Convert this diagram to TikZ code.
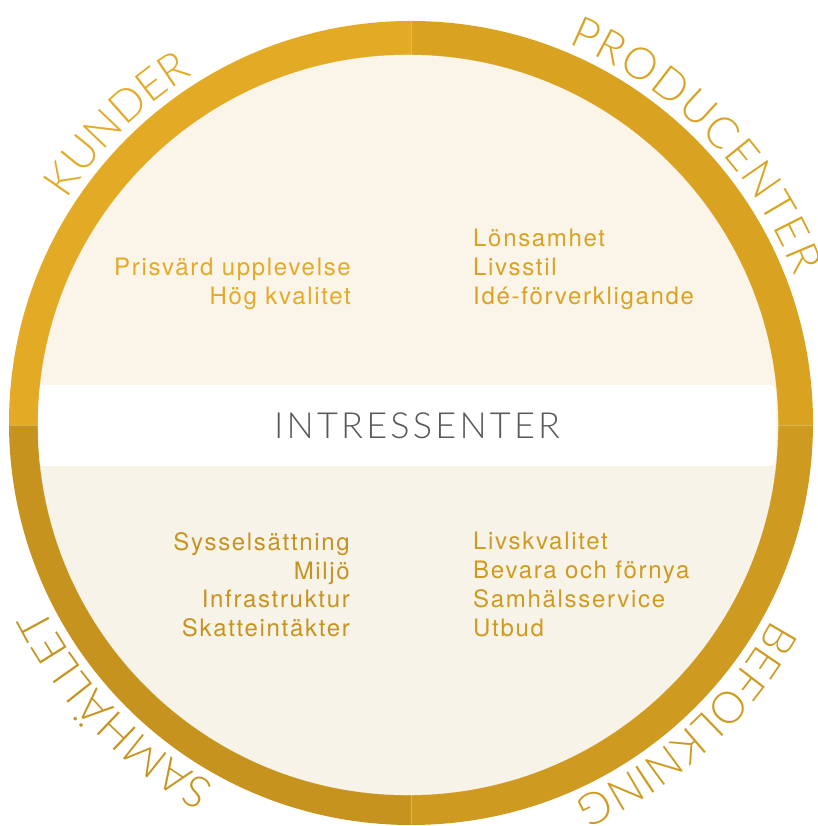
\documentclass[tikz,border=0pt]{standalone}
\usepackage{fontspec}
\usetikzlibrary{decorations.text}
\setmainfont{TeX Gyre Heros}
% light face for the curved ring labels and the central band
\IfFontExistsTF{Lato Light}
  {\newfontfamily\ringfont{Lato Light}
   \newfontfamily\titlefont[LetterSpace=9]{Lato Light}}
  {\newfontfamily\ringfont{TeX Gyre Heros}
   \newfontfamily\titlefont[LetterSpace=9]{TeX Gyre Heros}}
\newfontfamily\itemfont[LetterSpace=7]{TeX Gyre Heros}

\definecolor{ringTL}{HTML}{E3AA25}
\definecolor{ringTR}{HTML}{D9A321}
\definecolor{ringBL}{HTML}{C6941E}
\definecolor{ringBR}{HTML}{CF9A20}
\definecolor{creamT}{HTML}{FBF4E8}
\definecolor{creamB}{HTML}{F7F3E8}
\definecolor{titlegray}{HTML}{58595B}

\tikzset{
  item/.style={font=\itemfont\fontsize{24}{24}\selectfont, inner sep=0pt},
  ringlabel/.style 2 args={decorate, decoration={text along path,
      text={|\ringfont\fontsize{44}{44}\selectfont|#1},
      text align=fit to path, text color=#2}}
}

\begin{document}
\begin{tikzpicture}[x=1pt,y=1pt]
\useasboundingbox (0,0) rectangle (817,826);
\coordinate (O) at (411,403);   % centre of the ring
\coordinate (I) at (408,401);   % centre of the inner disc

% ring, four coloured quadrants
\begin{scope}
  \clip (O) circle[radius=402];
  \fill[ringTL] (0,400.5) rectangle (411,826);
  \fill[ringTR] (411,400.5) rectangle (817,826);
  \fill[ringBL] (0,0) rectangle (411,400.5);
  \fill[ringBR] (411,0) rectangle (817,400.5);
  \draw[white, opacity=0.25, line width=0.8] (411,0) -- (411,826);
  \draw[white, opacity=0.25, line width=0.8] (0,400.5) -- (817,400.5);
\end{scope}

% inner disc with the white middle band
\begin{scope}
  \clip (I) circle[radius=370];
  \fill[creamT] (0,400) rectangle (817,826);
  \fill[creamB] (0,0) rectangle (817,400);
  \fill[white, rounded corners=6] (36,360) rectangle (776,441);
\end{scope}
\draw[white, opacity=0.5, line width=0.6] (I) circle[radius=370];

\node[font=\titlefont\fontsize{36}{36}\selectfont, text=titlegray, inner sep=0pt,
      anchor=base] (title) at (417,387) {INTRESSENTER};

% customers
\node[item, text=ringTL, anchor=base east] (k1) at (351,550) {Prisvärd upplevelse};
\node[item, text=ringTL, anchor=base east] (k2) at (351,521) {Hög kvalitet};
% producers
\node[item, text=ringTR, anchor=base west] (p1) at (473,579) {Lönsamhet};
\node[item, text=ringTR, anchor=base west] (p2) at (473,550) {Livsstil};
\node[item, text=ringTR, anchor=base west] (p3) at (473,521) {Idé-förverkligande};
% society
\node[item, text=ringBL, anchor=base east] (s1) at (350,275) {Sysselsättning};
\node[item, text=ringBL, anchor=base east] (s2) at (350,246.5) {Miljö};
\node[item, text=ringBL, anchor=base east] (s3) at (350,218) {Infrastruktur};
\node[item, text=ringBL, anchor=base east] (s4) at (350,189.5) {Skatteintäkter};
% population
\node[item, text=ringBR, anchor=base west] (b1) at (473,276) {Livskvalitet};
\node[item, text=ringBR, anchor=base west] (b2) at (473,247) {Bevara och förnya};
\node[item, text=ringBR, anchor=base west] (b3) at (473,218) {Samhälsservice};
\node[item, text=ringBR, anchor=base west] (b4) at (473,189) {Utbud};

% curved labels round the outside, running clockwise
\path[ringlabel={KUNDER}{ringTL}]
  (O) ++(147:411) arc[start angle=147, end angle=122, radius=411];
\path[ringlabel={PRODUCENTER}{ringTR}]
  (O) ++(67.5:411) arc[start angle=67.5, end angle=21, radius=411];
\path[ringlabel={BEFOLKNING}{ringBR}]
  (O) ++(-28.5:411) arc[start angle=-28.5, end angle=-65, radius=411];
\path[ringlabel={SAMHÄLLET}{ringBL}]
  (O) ++(241.5:411) arc[start angle=241.5, end angle=208, radius=411];
\end{tikzpicture}
\end{document}
